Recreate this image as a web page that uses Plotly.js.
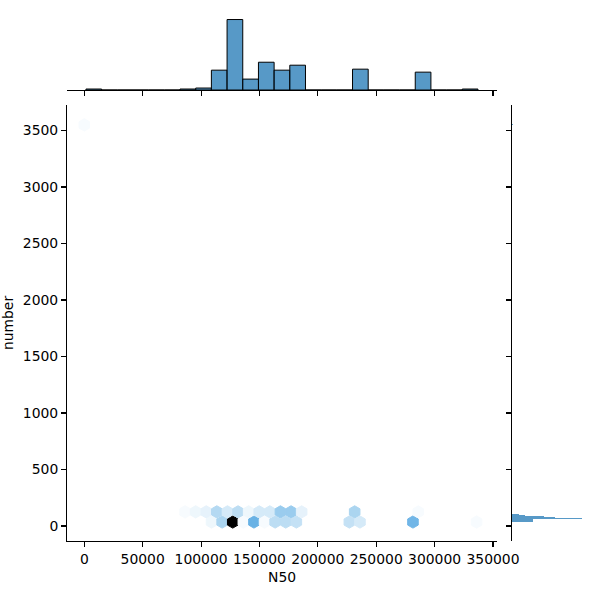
<!DOCTYPE html>
<html><head><meta charset="utf-8">
<script src="https://cdn.plot.ly/plotly-3.0.1.min.js"></script>
<style>html,body{margin:0;padding:0;background:#fff}</style>
</head><body><div id="chart" style="width:600px;height:600px"></div>
<script>
// ---- hexbin cells (N50 centre, number centre, count) ----
const hexN50 = [108960, 118040, 127120, 136200, 145280, 154360, 163440, 172520, 181600, 227000, 236080, 281480, 335960,
                86260, 95340, 104420, 113500, 122580, 131660, 140740, 149820, 158900, 167980, 177060, 186140, 231540, 286020,
                0];
const hexNumber = [35, 35, 35, 35, 35, 35, 35, 35, 35, 35, 35, 35, 35,
                   125, 125, 125, 125, 125, 125, 125, 125, 125, 125, 125, 125, 125, 125,
                   3550];
const hexCount = [2, 10, 52, 1, 18, 1, 8, 8, 7, 7, 5, 17, 1,
                  1, 2, 3, 9, 5, 8, 2, 5, 5, 12, 12, 3, 10, 1,
                  1];

// ---- top marginal histogram of N50 ----
const n50Edges = [1400, 14830, 28260, 41690, 55120, 68550, 81980, 95410, 108840, 122270, 135700, 149130, 162560,
                  175990, 189420, 202850, 216280, 229710, 243140, 256570, 270000, 283430, 296860, 310290, 323720, 337150];
const n50Counts = [1, 0, 0, 0, 0, 0, 1, 2, 20, 71, 11, 28, 20, 25, 0, 0, 0, 21, 0, 0, 0, 18, 0, 0, 1];

// ---- right marginal histogram of number ----
const numberBinLo = [38, 47, 56, 65, 68, 74, 80, 89, 97, 3545];
const numberBinHi = [47, 56, 65, 68, 74, 80, 89, 97, 106, 3555];
const numberCounts = [20, 20, 20, 66, 55, 40, 30, 12, 7, 1];

// ---- ticks ----
const xTicks = [0, 50000, 100000, 150000, 200000, 250000, 300000, 350000];
const yTicks = [0, 500, 1000, 1500, 2000, 2500, 3000, 3500];

// colormap: seaborn hex cmap (C0 hue/sat, lightness 1 -> 0)
function hue2rgb(p, q, t) {
  if (t < 0) t += 1; if (t > 1) t -= 1;
  if (t < 1/6) return p + (q - p) * 6 * t;
  if (t < 1/2) return q;
  if (t < 2/3) return p + (q - p) * (2/3 - t) * 6;
  return p;
}
function hls(h, l, s) {
  let r, g, b;
  if (s === 0) { r = g = b = l; } else {
    const q = l < 0.5 ? l * (1 + s) : l + s - l * s;
    const p = 2 * l - q;
    r = hue2rgb(p, q, h + 1/3); g = hue2rgb(p, q, h); b = hue2rgb(p, q, h - 1/3);
  }
  return 'rgb(' + Math.round(r*255) + ',' + Math.round(g*255) + ',' + Math.round(b*255) + ')';
}
(function(){
  const r = 31/255, g = 119/255, b = 180/255;
  const mx = Math.max(r,g,b), mn = Math.min(r,g,b);
  const l = (mx+mn)/2, d = mx-mn;
  const s = l < 0.5 ? d/(mx+mn) : d/(2-mx-mn);
  let h;
  if (mx === r) h = ((g-b)/d) % 6; else if (mx === g) h = (b-r)/d + 2; else h = (r-g)/d + 4;
  h = h/6; if (h < 0) h += 1;
  window.cscale = [];
  for (let k = 0; k < 12; k++) {
    const lk = Math.max(0, Math.min(1, 1 - k/11));
    window.cscale.push([k/11, hls(h, lk, s)]);
  }
})();
const cmax = Math.max.apply(null, hexCount);

const n50Centers = n50Counts.map((c, i) => (n50Edges[i] + n50Edges[i+1]) / 2);
const n50Widths = n50Counts.map((c, i) => n50Edges[i+1] - n50Edges[i]);
const numCenters = numberCounts.map((c, i) => (numberBinLo[i] + numberBinHi[i]) / 2);
const numWidths = numberCounts.map((c, i) => numberBinHi[i] - numberBinLo[i]);

const barFill = 'rgba(31,119,180,0.75)';
const traces = [
  {
    type: 'scatter', mode: 'markers', x: hexN50, y: hexNumber, xaxis: 'x', yaxis: 'y',
    hoverinfo: 'skip',
    marker: {
      symbol: 'hexagon', size: 12.2, color: hexCount, colorscale: cscale, cmin: 0, cmax: cmax, showscale: false,
      line: {width: 1, color: hexCount, colorscale: cscale, cmin: 0, cmax: cmax}
    }
  },
  {
    type: 'bar', x: n50Centers, y: n50Counts, width: n50Widths, xaxis: 'x2', yaxis: 'y2',
    marker: {color: barFill, line: {color: 'black', width: 1}}
  },
  {
    type: 'bar', orientation: 'h', y: numCenters, x: numberCounts, width: numWidths, xaxis: 'x3', yaxis: 'y3',
    marker: {color: barFill, line: {width: 0}}
  }
];

const axBase = {
  showline: true, linecolor: 'black', linewidth: 1.1, ticks: 'outside', ticklen: 4.9, tickwidth: 1.1,
  tickcolor: 'black', showgrid: false, zeroline: false, automargin: false
};
const xRange = [-14830, 353670];
const yRange = [-133, 3726];
const layout = {
  width: 600, height: 600,
  margin: {l: 67, r: 14.3, t: 16, b: 59},
  paper_bgcolor: 'white', plot_bgcolor: 'white', showlegend: false,
  font: {family: 'DejaVu Sans', size: 13.9, color: 'black'},
  bargap: 0,
  xaxis: Object.assign({}, axBase, {domain: [0, 0.829], range: xRange, anchor: 'y',
          tickvals: xTicks, ticktext: xTicks.map(String), title: {text: 'N50', font: {size: 13.9}, standoff: 6}}),
  yaxis: Object.assign({}, axBase, {domain: [0, 0.8305], range: yRange, anchor: 'x',
          tickvals: yTicks, ticktext: yTicks.map(String), title: {text: 'number', font: {size: 13.9}, standoff: 8}}),
  xaxis2: Object.assign({}, axBase, {domain: [0, 0.829], range: xRange, anchor: 'y2',
          tickvals: xTicks, showticklabels: false}),
  yaxis2: {domain: [0.859, 1], range: [0, 74.55], anchor: 'x2', visible: false, fixedrange: true},
  xaxis3: {domain: [0.8573, 1], range: [0, 69.3], anchor: 'y3', visible: false},
  yaxis3: Object.assign({}, axBase, {domain: [0, 0.8305], range: yRange, anchor: 'x3',
          tickvals: yTicks, showticklabels: false})
};
Plotly.newPlot('chart', traces, layout, {staticPlot: true, displayModeBar: false});
</script>
</body></html>
